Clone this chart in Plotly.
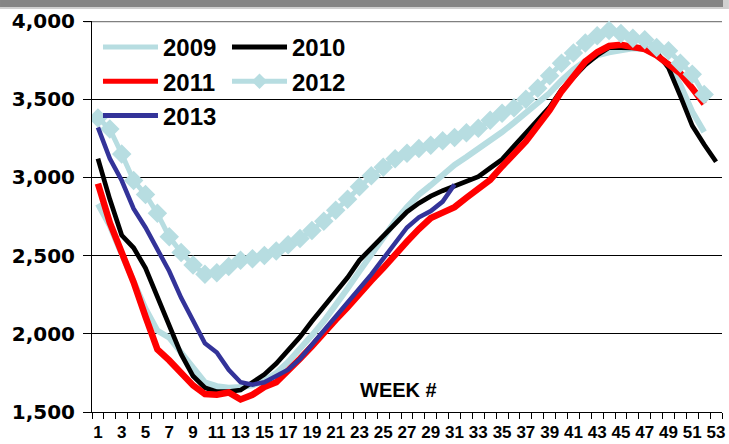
import plotly.graph_objects as go

weeks = list(range(1, 54))

y2009 = [2830, 2690, 2510, 2330, 2160, 2020, 1975, 1880, 1780, 1690,
         1665, 1655, 1660, 1670, 1700, 1750, 1820, 1900, 1990, 2080,
         2180, 2290, 2400, 2510, 2620, 2720, 2810, 2890, 2950, 3020,
         3080, 3130, 3180, 3230, 3290, 3350, 3410, 3470, 3540, 3620,
         3690, 3745, 3780, 3800, 3815, 3825, 3820, 3780, 3720, 3590,
         3420, 3290]

y2010 = [3120, 2860, 2630, 2550, 2420, 2240, 2050, 1870, 1730, 1655,
         1630, 1630, 1640, 1690, 1740, 1810, 1890, 1980, 2080, 2170,
         2260, 2360, 2470, 2550, 2630, 2700, 2780, 2835, 2880, 2915,
         2945, 2980, 3005, 3060, 3115, 3200, 3280, 3360, 3450, 3560,
         3640, 3720, 3780, 3830, 3830, 3828, 3826, 3800, 3700, 3520,
         3330, 3210, 3100]

y2011 = [2960, 2710, 2520, 2330, 2110, 1900, 1830, 1750, 1670, 1615,
         1610, 1625, 1580, 1610, 1660, 1690, 1760, 1840, 1920, 2010,
         2090, 2170, 2260, 2340, 2420, 2510, 2590, 2670, 2740, 2775,
         2810, 2870, 2930, 2985, 3070, 3150, 3230, 3330, 3430, 3550,
         3650, 3740, 3800, 3840, 3848, 3838, 3820, 3780, 3720, 3665,
         3570, 3470]

y2012 = [3380, 3310, 3150, 2980, 2890, 2770, 2620, 2520, 2440, 2380,
         2390, 2430, 2470, 2480, 2500, 2530, 2570, 2610, 2660, 2720,
         2790, 2860, 2940, 3010, 3065, 3120, 3155, 3185, 3205, 3235,
         3255, 3285, 3315, 3365, 3410, 3445, 3500, 3570, 3650, 3730,
         3795, 3860, 3905, 3940, 3920, 3890, 3880, 3830, 3810, 3730,
         3660, 3530]

y2013 = [3320, 3120, 2980, 2800, 2680, 2540, 2400, 2230, 2080, 1940,
         1880, 1770, 1690, 1675, 1690, 1730, 1770, 1840, 1930, 2010,
         2100, 2190, 2280, 2380, 2480, 2580, 2680, 2745, 2785, 2845,
         2955]

tick_weeks = list(range(1, 54, 2))
tick_labels = [str(w) for w in tick_weeks]
boundaries = [w + 0.5 for w in range(0, 54)]
y_ticks = [1500, 2000, 2500, 3000, 3500, 4000]

LIGHT = "#B7DDE1"
BOLD = "Liberation Sans, Arial, sans-serif"

fig = go.Figure()
fig.add_trace(go.Scatter(x=weeks[:len(y2009)], y=y2009, name="2009", mode="lines",
                         line=dict(color=LIGHT, width=6), legend="legend"))
fig.add_trace(go.Scatter(x=weeks[:len(y2010)], y=y2010, name="2010", mode="lines",
                         line=dict(color="#000000", width=4.7), legend="legend2"))
fig.add_trace(go.Scatter(x=weeks[:len(y2011)], y=y2011, name="2011", mode="lines",
                         line=dict(color="#FF0000", width=6.5), legend="legend"))
fig.add_trace(go.Scatter(x=weeks[:len(y2012)], y=y2012, name="2012", mode="lines+markers",
                         line=dict(color=LIGHT, width=5),
                         marker=dict(symbol="diamond", size=15, color=LIGHT),
                         legend="legend2"))
fig.add_trace(go.Scatter(x=weeks[:len(y2013)], y=y2013, name="2013", mode="lines",
                         line=dict(color="#333399", width=4.5), legend="legend"))

legend_common = dict(font=dict(family=BOLD, size=24, color="#000000", weight="bold"),
                     bgcolor="rgba(0,0,0,0)", itemwidth=55, orientation="v",
                     xanchor="left", yanchor="top", y=0.99, itemsizing="constant",
                     tracegroupgap=0)

fig.update_layout(
    width=729, height=444,
    margin=dict(l=92, r=7, t=21, b=32, autoexpand=False),
    paper_bgcolor="#FFFFFF", plot_bgcolor="#FFFFFF",
    showlegend=True,
    legend=dict(x=0.0095, **legend_common),
    legend2=dict(x=0.2143, **legend_common),
    xaxis=dict(range=[0.5, 53.5], tickmode="array", tickvals=tick_weeks, ticktext=tick_labels,
               ticks="", showgrid=False, zeroline=False, automargin=False,
               showline=True, linecolor="#000000", linewidth=1,
               tickfont=dict(family=BOLD, size=17, color="#000000", weight="bold"),
               ticklabelstandoff=5,
               minor=dict(tickvals=boundaries, ticks="outside", ticklen=6,
                          tickcolor="#000000", tickwidth=1, showgrid=False)),
    yaxis=dict(range=[1500, 4000], tickmode="array", tickvals=y_ticks, tickformat=",d",
               ticks="outside", ticklen=8, tickcolor="#000000", tickwidth=1,
               showgrid=True, gridcolor="#000000", gridwidth=1, zeroline=False,
               automargin=False,
               showline=True, linecolor="#000000", linewidth=1,
               tickfont=dict(family="DejaVu Sans", size=20, color="#000000", weight="bold"),
               ticklabelstandoff=4),
    annotations=[dict(text="WEEK #", xref="paper", yref="paper", x=0.487, y=0.056,
                      xanchor="center", yanchor="middle", showarrow=False,
                      font=dict(family=BOLD, size=20, color="#000000", weight="bold"))],
    shapes=[
        dict(type="rect", xref="paper", yref="paper", x0=-0.146, x1=1.011, y0=1.0307, y1=1.0537,
             fillcolor="#D0D0D0", line=dict(width=0), layer="above"),
        dict(type="rect", xref="paper", yref="paper", x0=-0.146, x1=1.0016, y0=1.0358, y1=1.0537,
             fillcolor="#858585", line=dict(width=0), layer="above"),
        dict(type="line", xref="paper", yref="y", x0=-0.0127, x1=1.0, y0=4000, y1=4000,
             line=dict(color="#808080", width=2.5), layer="below"),
    ],
)

fig.write_html("out.html", config={"displayModeBar": False},
               post_script="document.body.style.margin='0px';document.body.style.overflow='hidden';")
